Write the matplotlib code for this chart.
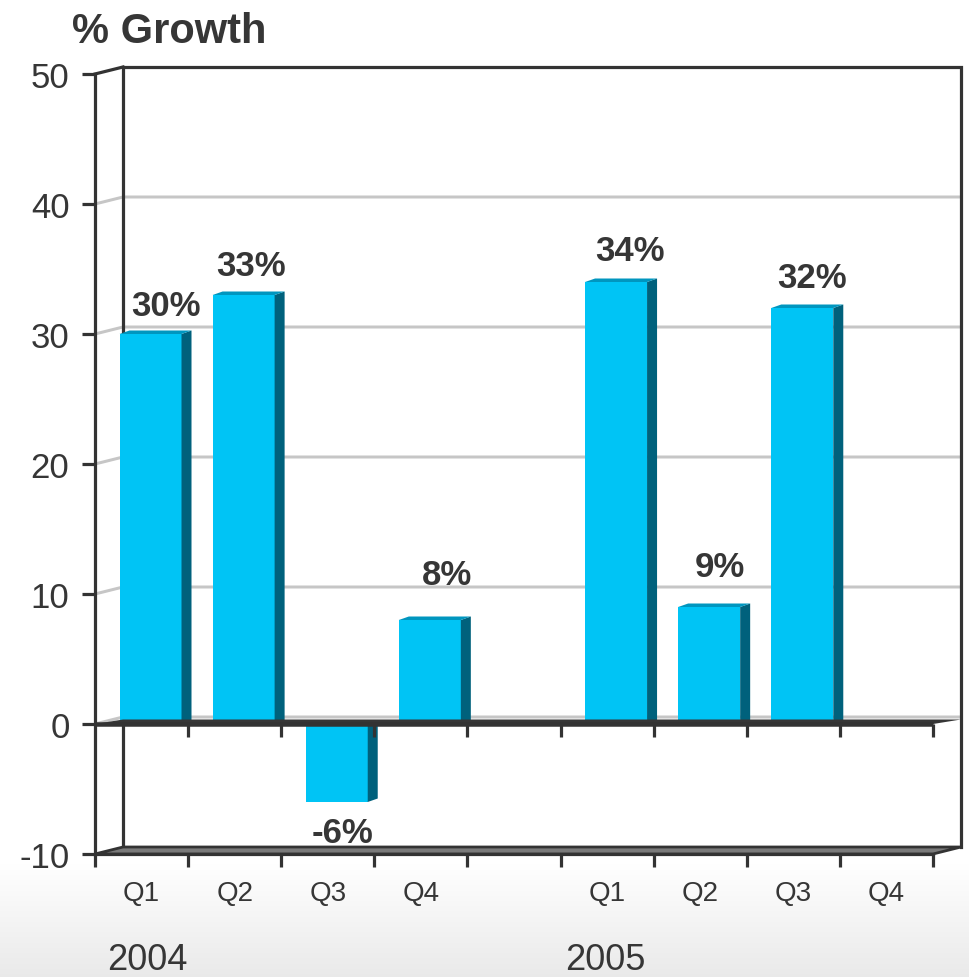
import numpy as np
import matplotlib
matplotlib.use("Agg")
import matplotlib.pyplot as plt
from matplotlib.patches import Polygon
import matplotlib.transforms as mtransforms

# ---------------- data ----------------
years = ["2004", "2005"]
quarters = ["Q1", "Q2", "Q3", "Q4"]
growth_2004 = [30, 33, -6, 8]
growth_2005 = [34, 9, 32, np.nan]
value_labels_2004 = ["30%", "33%", "-6%", "8%"]
value_labels_2005 = ["34%", "9%", "32%", ""]
y_ticks = [-10, 0, 10, 20, 30, 40, 50]
title = "% Growth"

# ---------------- style ----------------
plt.rcParams['font.family'] = ['Liberation Sans', 'DejaVu Sans']
TXT = '#363636'
AXC = '#333333'
GRID = '#c6c6c6'
FRONT = '#00c4f5'
SIDE = '#00617c'
TOP = '#0096bf'
label_gap_px = [19, 20, 14, 36, 22, 31, 21, 0]
label_dx_px = [15, 7, 6, 17, 14, 11, 10, 0]
year_dx = [0.56, 0.48]

W, H = 969, 978
fig = plt.figure(figsize=(W / 100, H / 100), dpi=100)

# background gradient at the bottom
bg = fig.add_axes([0, 0, 1, 1], zorder=-5)
grad = np.ones((H, 1))
rows = np.arange(H)
start = 865
grad[rows >= start, 0] = 1 - 0.085 * (rows[rows >= start] - start) / (H - start)
bg.imshow(np.dstack([grad, grad, grad]), aspect='auto', extent=[0, 1, 0, 1], vmin=0, vmax=1)
bg.axis('off')

x0, x1, ytop, ybot = 95, 933, 75, 855
ax = fig.add_axes([x0 / W, 1 - ybot / H, (x1 - x0) / W, (ybot - ytop) / H])
ax.patch.set_alpha(0)
nslots = 9
ymin, ymax = -10, 50
ax.set_xlim(0, nslots)
ax.set_ylim(ymin, ymax)
ppx = (x1 - x0) / nslots
ppy = (ybot - ytop) / (ymax - ymin)
DX, DY = 28 / ppx, 7 / ppy

lw_ax = 3.2 * 72 / 100
lw_grid = 3.0 * 72 / 100

# back wall gridlines
for v in [0, 10, 20, 30, 40]:
    ax.plot([0, DX, nslots + DX], [v, v + DY, v + DY], color=GRID, lw=lw_grid,
            clip_on=False, zorder=1, solid_capstyle='butt')

# back wall frame
ax.plot([DX, DX, nslots + DX, nslots + DX], [ymin + DY, ymax + DY, ymax + DY, ymin + DY],
        color=AXC, lw=lw_ax, clip_on=False, zorder=2, solid_joinstyle='miter')
ax.plot([0, DX], [ymax, ymax + DY], color=AXC, lw=lw_ax, clip_on=False, zorder=2)

# bottom floor
floor = Polygon([(0, ymin), (nslots, ymin), (nslots + DX, ymin + DY), (DX, ymin + DY)],
                closed=True, fc='#7a7a7a', ec=AXC, lw=2.0, clip_on=False, zorder=3)
ax.add_patch(floor)

# bars
slots = [0, 1, 2, 3, 5, 6, 7, 8]
values = list(growth_2004) + list(growth_2005)
vlabels = value_labels_2004 + value_labels_2005
face_left = 24.5 / ppx
face_w = 62 / ppx
sdx, sdy = 10 / ppx, 3.5 / ppy

for i, (s, v, lab) in enumerate(zip(slots, values, vlabels)):
    if np.isnan(v):
        continue
    left = s + face_left
    right = left + face_w
    ax.bar(left, v, width=face_w, align='edge', color=FRONT, zorder=5, lw=0)
    ax.add_patch(Polygon([(right, 0), (right + sdx, sdy), (right + sdx, v + sdy), (right, v)],
                         closed=True, fc=SIDE, ec='none', zorder=5))
    if v > 0:
        ax.add_patch(Polygon([(left, v), (left + sdx, v + sdy), (right + sdx, v + sdy), (right, v)],
                             closed=True, fc=TOP, ec='none', zorder=5))
    cx = left + face_w / 2 + label_dx_px[i] / ppx
    if v >= 0:
        ax.text(cx, v + label_gap_px[i] / ppy, lab, ha='center', va='baseline',
                fontsize=25, fontweight='bold', color=TXT, zorder=8)
    else:
        ax.text(cx, v - label_gap_px[i] / ppy, lab, ha='center', va='top',
                fontsize=25, fontweight='bold', color=TXT, zorder=8)

# zero floor
zf = Polygon([(0, 0), (nslots, 0), (nslots + DX, 4.5 / ppy), (DX, 4.5 / ppy)],
             closed=True, fc='#363636', ec='none', clip_on=False, zorder=6)
ax.add_patch(zf)
ax.plot([0, nslots], [0, 0], color='#333333', lw=4.5 * 72 / 100, zorder=6,
        solid_capstyle='butt', clip_on=False)
for s in range(1, nslots + 1):
    ax.plot([s, s], [0, -13 / ppy], color=AXC, lw=lw_ax, zorder=6, clip_on=False,
            solid_capstyle='butt')

# axes spines / ticks
for sp in ['top', 'right']:
    ax.spines[sp].set_visible(False)
for sp in ['left', 'bottom']:
    ax.spines[sp].set_color(AXC)
    ax.spines[sp].set_linewidth(lw_ax)
    ax.spines[sp].set_zorder(7)
ax.set_yticks(y_ticks)
ax.set_yticklabels([str(t) for t in y_ticks])
ax.tick_params(axis='y', direction='out', length=13 * 0.72, width=lw_ax, color=AXC,
               labelsize=25, labelcolor=TXT, pad=9)
ax.set_xticks(range(0, nslots + 1))
ax.set_xticklabels([])
ax.tick_params(axis='x', which='major', direction='out', length=13 * 0.72, width=lw_ax, color=AXC)
centers = [s + 0.5 for s in slots]
ax.set_xticks(centers, minor=True)
ax.set_xticklabels(quarters + quarters, minor=True)
ax.tick_params(axis='x', which='minor', length=0, labelsize=20, labelcolor=TXT, pad=19)

# year labels
trans = mtransforms.blended_transform_factory(ax.transData, fig.transFigure)
year_slots = [0, 5]
for yl, s, d in zip(years, year_slots, year_dx):
    ax.text(s + d, (H - 970) / H, yl, transform=trans, ha='center', va='baseline',
            fontsize=26, color=TXT, clip_on=False)

# title
fig.text(72 / W, 1 - 43 / H, title, ha='left', va='baseline', fontsize=30,
         fontweight='bold', color=TXT)

fig.savefig('out.png', dpi=100)
